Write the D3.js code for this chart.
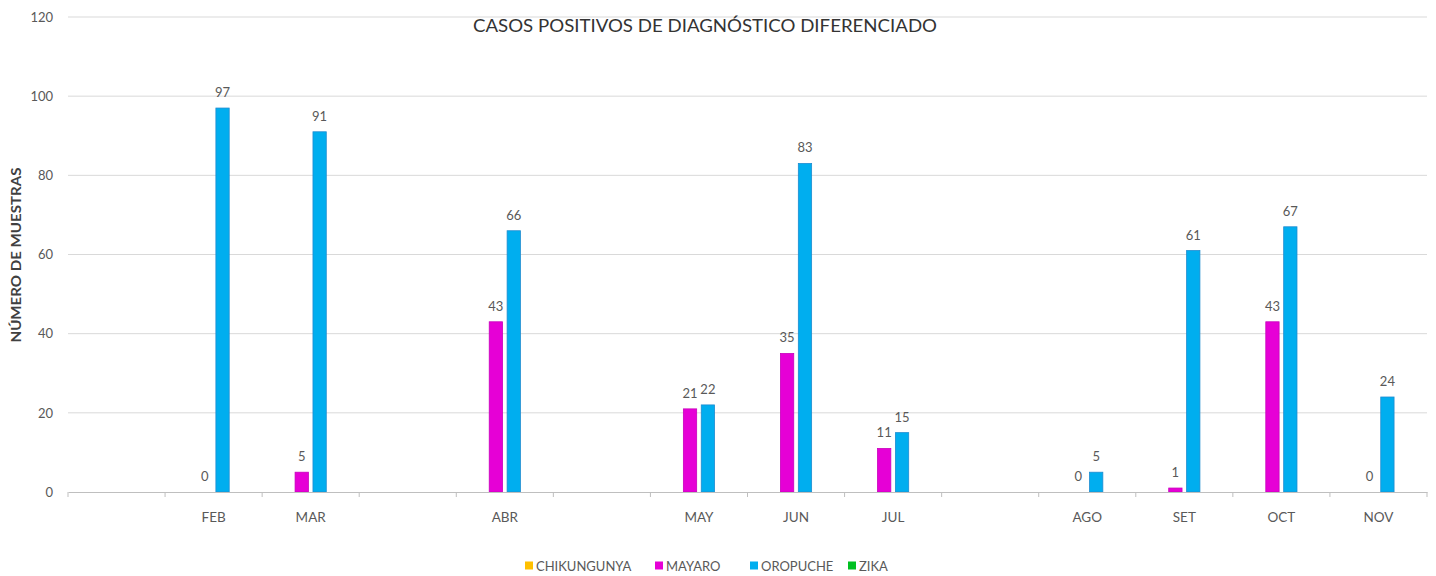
<!DOCTYPE html>
<html>
<head>
<meta charset="utf-8">
<script src="https://cdn.jsdelivr.net/npm/d3@7"></script>
<style>
  body { margin: 0; background: #fff; }
  text { font-family: Lato, "Open Sans", sans-serif; }
</style>
</head>
<body>
<div id="chart"></div>
<script>
// month slots, blank ones are empty categories in the original sheet
var months = ["", "FEB", "MAR", "", "ABR", "", "MAY", "JUN", "JUL", "", "AGO", "SET", "OCT", "NOV"];
var seriesNames = ["CHIKUNGUNYA", "MAYARO", "OROPUCHE", "ZIKA"];
var seriesColors = ["#FFC000", "#E600D6", "#00AEEF", "#00C020"];
var seriesStroke = ["#E0A800", "#C800BC", "#1E8CD0", "#00A018"];
var chikungunya = [null, null, null, null, null, null, null, null, null, null, null, null, null, null];
var mayaro = [null, 0, 5, null, 43, null, 21, 35, 11, null, 0, 1, 43, 0];
var oropuche = [null, 97, 91, null, 66, null, 22, 83, 15, null, 5, 61, 67, 24];
var zika = [null, null, null, null, null, null, null, null, null, null, null, null, null, null];
var yTicks = [0, 20, 40, 60, 80, 100, 120];

var svgWidth = 1436;
var svgHeight = 576;
var margin = {top: 17, right: 9, bottom: 84, left: 68};
var plotW = svgWidth - margin.left - margin.right;
var plotH = svgHeight - margin.top - margin.bottom;

var allSeries = [chikungunya, mayaro, oropuche, zika];

var svg = d3.select("#chart")
  .append("svg")
  .attr("width", svgWidth)
  .attr("height", svgHeight);

var g = svg.append("g")
  .attr("transform", "translate(" + margin.left + "," + margin.top + ")");

var x0 = d3.scaleBand()
  .domain(d3.range(months.length))
  .range([0, plotW])
  .paddingInner(0.3)
  .paddingOuter(0.15);

var x1 = d3.scaleBand()
  .domain(d3.range(seriesNames.length))
  .range([0, x0.bandwidth()])
  .paddingInner(0.2);

var yScale = d3.scaleLinear()
  .domain([0, 120])
  .range([plotH, 0]);

// gridlines
g.selectAll("line.grid")
  .data(yTicks.slice(1))
  .enter()
  .append("line")
  .attr("class", "grid")
  .attr("x1", 0)
  .attr("x2", plotW)
  .attr("y1", function(d){ return yScale(d); })
  .attr("y2", function(d){ return yScale(d); })
  .attr("stroke", "#d9d9d9")
  .attr("stroke-width", 1);

// y axis labels
var yAxis = d3.axisLeft(yScale).tickValues(yTicks).tickSize(0).tickPadding(15);
var yg = g.append("g").call(yAxis);
yg.select(".domain").remove();
yg.selectAll("text")
  .style("font-size", "13px")
  .attr("fill", "#595959");

// bars
allSeries.forEach(function(values, si){
  var rows = values.map(function(v, i){ return {i: i, v: v}; })
    .filter(function(d){ return d.v !== null; });

  g.selectAll("rect.s" + si)
    .data(rows)
    .enter()
    .append("rect")
    .attr("class", "s" + si)
    .attr("x", function(d){ return x0(d.i) + x1(si) + 0.5; })
    .attr("y", function(d){ return yScale(d.v); })
    .attr("width", x1.bandwidth() - 1)
    .attr("height", function(d){ return plotH - yScale(d.v); })
    .attr("fill", seriesColors[si])
    .attr("stroke", seriesStroke[si])
    .attr("stroke-width", 0.8);

  g.selectAll("text.l" + si)
    .data(rows)
    .enter()
    .append("text")
    .attr("class", "l" + si)
    .attr("x", function(d){ return x0(d.i) + x1(si) + x1.bandwidth() / 2; })
    .attr("y", function(d){ return yScale(d.v) - 11; })
    .attr("text-anchor", "middle")
    .style("font-size", "13px")
    .attr("fill", "#595959")
    .text(function(d){ return d.v; });
});

// x axis
var xAxis = d3.axisBottom(x0)
  .tickFormat(function(i){ return months[i]; })
  .tickSize(0)
  .tickPadding(20);
var xg = g.append("g")
  .attr("transform", "translate(0," + plotH + ")")
  .call(xAxis);
xg.select(".domain").attr("stroke", "#bfbfbf");
xg.selectAll("text")
  .style("font-size", "13.5px")
  .attr("fill", "#595959");

// tick marks at category boundaries
g.selectAll("line.xtick")
  .data(d3.range(months.length + 1))
  .enter()
  .append("line")
  .attr("class", "xtick")
  .attr("x1", function(i){ return i * x0.step(); })
  .attr("x2", function(i){ return i * x0.step(); })
  .attr("y1", plotH)
  .attr("y2", plotH + 5)
  .attr("stroke", "#bfbfbf");

// title
svg.append("text")
  .attr("x", 705)
  .attr("y", 32)
  .attr("text-anchor", "middle")
  .style("font-size", "18px")
  .attr("fill", "#333333")
  .attr("textLength", 464)
  .attr("lengthAdjust", "spacingAndGlyphs")
  .text("CASOS POSITIVOS DE DIAGNÓSTICO DIFERENCIADO");

// y axis title
svg.append("text")
  .attr("transform", "translate(21," + 255 + ") rotate(-90)")
  .attr("text-anchor", "middle")
  .style("font-size", "12.5px")
  .style("font-weight", "bold")
  .attr("fill", "#404040")
  .attr("textLength", 175)
  .attr("lengthAdjust", "spacingAndGlyphs")
  .text("NÚMERO DE MUESTRAS");

// legend
var legendX = [525, 655, 750, 848];
var legend = svg.selectAll("g.legend")
  .data(seriesNames)
  .enter()
  .append("g")
  .attr("class", "legend")
  .attr("transform", function(d, i){ return "translate(" + legendX[i] + ",566)"; });

legend.append("rect")
  .attr("x", 0)
  .attr("y", -4.5)
  .attr("width", 8)
  .attr("height", 8)
  .attr("fill", function(d, i){ return seriesColors[i]; });

legend.append("text")
  .attr("x", 11)
  .attr("y", 5)
  .style("font-size", "13px")
  .attr("fill", "#595959")
  .text(function(d){ return d; });
</script>
</body>
</html>
